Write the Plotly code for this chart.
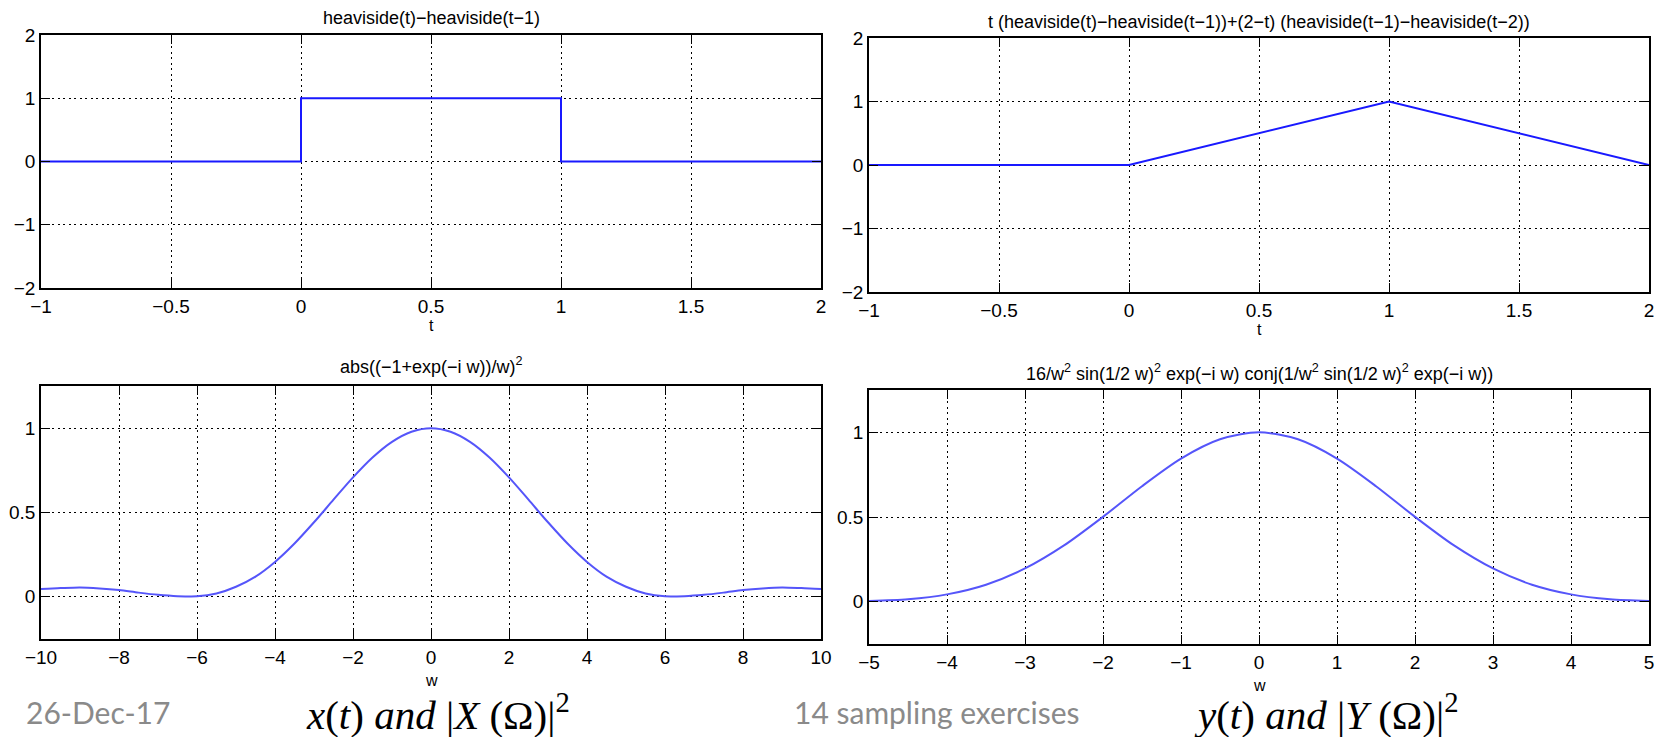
import plotly.graph_objects as go

W, H = 1658, 737

# ---------------- data ----------------
t_rect = [-1, 0, 0, 1, 1, 2]
x_rect = [0, 0, 1, 1, 0, 0]

t_tri = [-1, 0, 1, 2]
y_tri = [0, 0, 1, 0]

w_X = [-10, -9.5, -9, -8.5, -8, -7.5, -7, -6.5, -6, -5.5, -5, -4.5, -4, -3.5, -3, -2.5, -2, -1.5, -1, -0.5,
       0, 0.5, 1, 1.5, 2, 2.5, 3, 3.5, 4, 4.5, 5, 5.5, 6, 6.5, 7, 7.5, 8, 8.5, 9, 9.5, 10]
X_mag2 = [0.046, 0.052, 0.056, 0.050, 0.040, 0.025, 0.012, 0.004, 0.003, 0.020, 0.060, 0.120, 0.207, 0.316,
          0.442, 0.576, 0.708, 0.826, 0.919, 0.979,
          1.000, 0.979, 0.919, 0.826, 0.708, 0.576, 0.442, 0.316, 0.207, 0.120, 0.060, 0.020, 0.003, 0.004,
          0.012, 0.025, 0.040, 0.050, 0.056, 0.052, 0.046]

w_Y = [-5, -4.5, -4, -3.5, -3, -2.5, -2, -1.5, -1, -0.5, 0, 0.5, 1, 1.5, 2, 2.5, 3, 3.5, 4, 4.5, 5]
Y_mag2 = [0.004, 0.014, 0.043, 0.100, 0.196, 0.332, 0.501, 0.682, 0.845, 0.959, 1.000,
          0.959, 0.845, 0.682, 0.501, 0.332, 0.196, 0.100, 0.043, 0.014, 0.004]

tick_t_x = [-1, -0.5, 0, 0.5, 1, 1.5, 2]
tick_t_y = [-2, -1, 0, 1, 2]
tick_wX = [-10, -8, -6, -4, -2, 0, 2, 4, 6, 8, 10]
tick_wY = [-5, -4, -3, -2, -1, 0, 1, 2, 3, 4, 5]
tick_mag = [0, 0.5, 1]

titles = [
    "heaviside(t)\u2212heaviside(t\u22121)",
    "t (heaviside(t)\u2212heaviside(t\u22121))+(2\u2212t) (heaviside(t\u22121)\u2212heaviside(t\u22122))",
    "abs((\u22121+exp(\u2212i w))/w)<sup>2</sup>",
    "16/w<sup>2</sup> sin(1/2 w)<sup>2</sup> exp(\u2212i w) conj(1/w<sup>2</sup> sin(1/2 w)<sup>2</sup> exp(\u2212i w))",
]

# ---------------- helpers ----------------
def px(x):
    return x / W

def py(y):
    return 1 - y / H

FONT = "Liberation Sans, Arial, Helvetica, sans-serif"

def axis(domain, rng, tickvals, anchor):
    return dict(
        domain=domain, range=rng, tickvals=tickvals, anchor=anchor, automargin=False,
        showgrid=True, gridcolor="black", griddash="2px,3.5px", gridwidth=1.4,
        showline=True, linecolor="black", linewidth=1.6, mirror="ticks",
        ticks="inside", ticklen=9, tickwidth=1.3, tickcolor="black",
        zeroline=False, fixedrange=True,
        tickfont=dict(family=FONT, size=19, color="black"),
    )

fig = go.Figure()

blue_top = dict(color="rgb(25,25,255)", width=2)
blue_bot = dict(color="rgb(85,85,250)", width=2)

fig.add_trace(go.Scatter(x=t_rect, y=x_rect, mode="lines", line=blue_top, xaxis="x", yaxis="y", showlegend=False))
fig.add_trace(go.Scatter(x=t_tri, y=y_tri, mode="lines", line=blue_top, xaxis="x2", yaxis="y2", showlegend=False))
fig.add_trace(go.Scatter(x=w_X, y=X_mag2, mode="lines", line=dict(shape="spline", smoothing=0.8, **blue_bot),
                         xaxis="x3", yaxis="y3", showlegend=False))
fig.add_trace(go.Scatter(x=w_Y, y=Y_mag2, mode="lines", line=dict(shape="spline", smoothing=0.8, **blue_bot),
                         xaxis="x4", yaxis="y4", showlegend=False))

# axes boxes in pixels: (left, right, top, bottom)
boxes = [(41, 821, 35, 288), (869, 1649, 38, 292), (41, 821, 386, 639), (869, 1649, 390, 644)]
xd = [[px(b[0]), px(b[1])] for b in boxes]
yd = [[py(b[3]), py(b[2])] for b in boxes]

fig.update_layout(
    template="none",
    width=W, height=H,
    margin=dict(l=0, r=0, t=0, b=0, autoexpand=False),
    paper_bgcolor="white", plot_bgcolor="white",
    font=dict(family=FONT, color="black"),
    showlegend=False,
    xaxis=axis(xd[0], [-1, 2], tick_t_x, "y"),
    yaxis=axis(yd[0], [-2, 2], tick_t_y, "x"),
    xaxis2=axis(xd[1], [-1, 2], tick_t_x, "y2"),
    yaxis2=axis(yd[1], [-2, 2], tick_t_y, "x2"),
    xaxis3=axis(xd[2], [-10, 10], tick_wX, "y3"),
    yaxis3=axis(yd[2], [-0.25, 1.25], tick_mag, "x3"),
    xaxis4=axis(xd[3], [-5, 5], tick_wY, "y4"),
    yaxis4=axis(yd[3], [-0.25, 1.25], tick_mag, "x4"),
)

ann = []
title_pos = [(431, 18), (1259, 22), (431, 366), (1259, 372)]
for txt, (x, y) in zip(titles, title_pos):
    ann.append(dict(text=txt, x=px(x), y=py(y), xref="paper", yref="paper", showarrow=False,
                    xanchor="center", yanchor="middle", font=dict(family=FONT, size=18, color="black")))

for txt, (x, y) in zip(["t", "t", "w", "w"], [(431, 325), (1259, 330), (431, 680), (1259, 685)]):
    ann.append(dict(text=txt, x=px(x), y=py(y), xref="paper", yref="paper", showarrow=False,
                    xanchor="center", yanchor="middle", font=dict(family=FONT, size=16, color="black")))

footer_font = dict(family="Lato, Open Sans, sans-serif", size=30, color="#8a8a8a")
ann.append(dict(text="26-Dec-17", x=px(24), y=py(712), xref="paper", yref="paper", showarrow=False,
                xanchor="left", yanchor="middle", font=footer_font))
ann.append(dict(text="14 sampling exercises", x=px(792), y=py(712), xref="paper", yref="paper", showarrow=False,
                xanchor="left", yanchor="middle", font=footer_font))

math_font = dict(family="Liberation Serif, Times New Roman, serif", size=41, color="black")
ann.append(dict(text="<i>x</i>(<i>t</i>) <i>and</i> |<i>X</i> (\u03a9)|<sup>2</sup>", x=px(438), y=py(712),
                xref="paper", yref="paper", showarrow=False, xanchor="center", yanchor="middle", font=math_font))
ann.append(dict(text="<i>y</i>(<i>t</i>) <i>and</i> |<i>Y</i> (\u03a9)|<sup>2</sup>", x=px(1326), y=py(712),
                xref="paper", yref="paper", showarrow=False, xanchor="center", yanchor="middle", font=math_font))

fig.update_layout(annotations=ann)

fig.write_html(
    "out.html",
    config={"displayModeBar": False},
    post_script="document.body.style.margin='0';document.body.style.padding='0';document.body.style.overflow='hidden';",
)
